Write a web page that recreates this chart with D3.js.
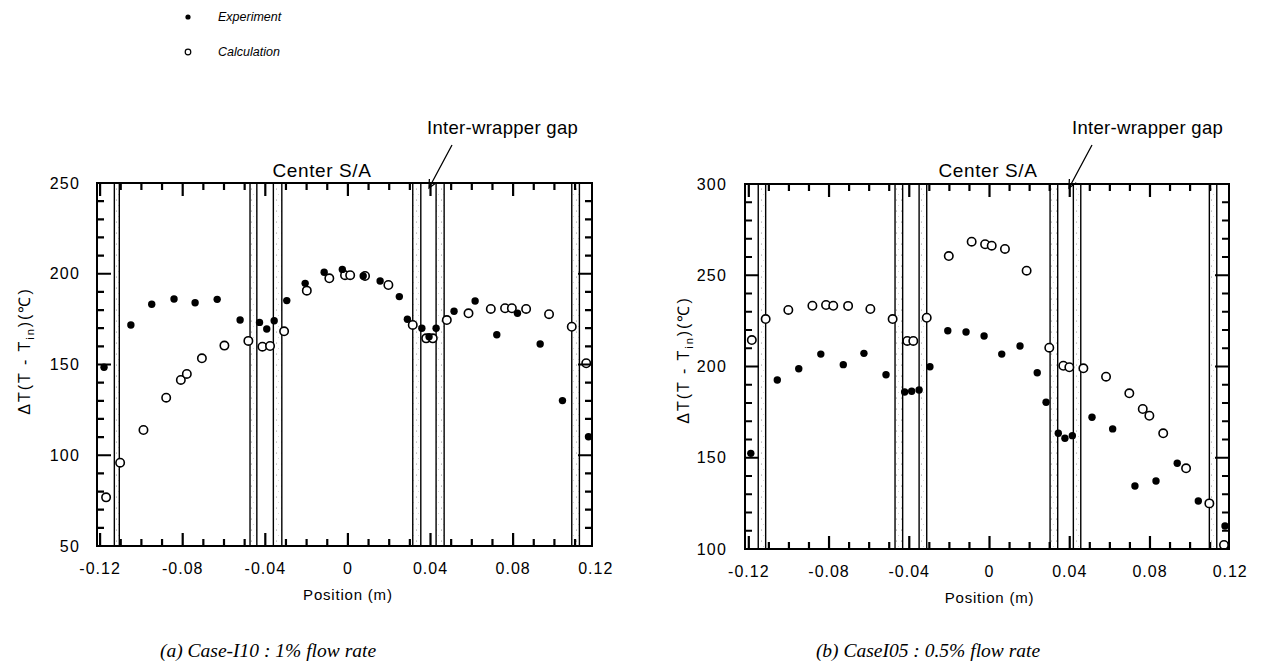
<!DOCTYPE html>
<html><head><meta charset="utf-8">
<script src="https://cdn.jsdelivr.net/npm/d3@7"></script>
<style>body{margin:0;background:#fff}</style>
</head><body><svg id="c" width="1269" height="664"></svg>
<script>
// ---------- data ----------
const xTickValues = [-0.12, -0.08, -0.04, 0, 0.04, 0.08, 0.12];
const xTickLabels = ["-0.12", "-0.08", "-0.04", "0", "0.04", "0.08", "0.12"];
const yTicksA = [50, 100, 150, 200, 250];
const yTicksB = [100, 150, 200, 250, 300];
const legendLabels = ["Experiment", "Calculation"];
const captions = ["(a) Case-I10 : 1% flow rate", "(b) CaseI05 : 0.5% flow rate"];
const annotCenter = "Center S/A";
const annotGap = "Inter-wrapper gap";
const xAxisTitle = "Position (m)";

// wrapper-tube walls [from, to] in m
const wallsA = [[-0.1131, -0.1107], [-0.0474, -0.0441], [-0.0361, -0.0320], [0.0314, 0.0353], [0.0427, 0.0466], [0.1084, 0.1121]];
const wallsB = [[-0.1153, -0.1116], [-0.0471, -0.0433], [-0.0351, -0.0313], [0.0302, 0.0340], [0.0418, 0.0455], [0.1096, 0.1133]];

// Case-I10 (1% flow)
const expA = [[-0.1181,148.5],[-0.1051,171.8],[-0.0950,183.2],[-0.0842,186.1],[-0.0740,184.0],[-0.0633,185.9],[-0.0522,174.5],[-0.0428,173.2],[-0.0393,169.6],[-0.0357,174.1],[-0.0296,185.2],[-0.0207,194.7],[-0.0115,200.8],[-0.0027,202.4],[0.0074,198.8],[0.0156,196.0],[0.0249,187.4],[0.0288,174.9],[0.0358,170.0],[0.0393,165.3],[0.0427,170.0],[0.0514,179.3],[0.0616,185.0],[0.0721,166.4],[0.0821,178.2],[0.0931,161.3],[0.1039,130.1],[0.1165,110.2]];
const calcA = [[-0.1171,76.8],[-0.1103,95.9],[-0.0990,113.9],[-0.0880,131.7],[-0.0809,141.5],[-0.0780,144.8],[-0.0707,153.4],[-0.0598,160.4],[-0.0482,163.0],[-0.0414,159.8],[-0.0377,160.2],[-0.0309,168.3],[-0.0199,190.7],[-0.0090,197.5],[-0.0014,199.2],[0.0011,199.2],[0.0083,198.8],[0.0196,193.8],[0.0314,171.8],[0.0379,164.4],[0.0411,164.4],[0.0479,174.5],[0.0584,178.2],[0.0692,180.6],[0.0761,181.0],[0.0794,181.0],[0.0863,180.6],[0.0974,177.7],[0.1084,170.8],[0.1154,150.7]];

// Case-I05 (0.5% flow)
const expB = [[-0.1190,152.4],[-0.1058,192.6],[-0.0951,198.8],[-0.0841,206.8],[-0.0729,201.0],[-0.0626,207.2],[-0.0516,195.5],[-0.0423,186.0],[-0.0388,186.4],[-0.0351,187.1],[-0.0297,199.9],[-0.0208,219.6],[-0.0117,218.9],[-0.0027,216.7],[0.0061,206.8],[0.0152,211.2],[0.0238,196.6],[0.0282,180.4],[0.0343,163.4],[0.0376,160.7],[0.0413,162.1],[0.0511,172.2],[0.0614,165.8],[0.0725,134.5],[0.0830,137.3],[0.0936,147.0],[0.1041,126.3],[0.1174,112.6]];
const calcB = [[-0.1185,214.5],[-0.1116,226.0],[-0.1003,231.0],[-0.0883,233.3],[-0.0815,233.7],[-0.0779,233.3],[-0.0705,233.2],[-0.0594,231.5],[-0.0483,226.0],[-0.0410,214.0],[-0.0380,214.0],[-0.0313,226.7],[-0.0203,260.5],[-0.0089,268.4],[-0.0022,267.0],[0.0011,266.2],[0.0077,264.4],[0.0185,252.5],[0.0298,210.3],[0.0368,200.4],[0.0398,199.6],[0.0468,199.0],[0.0581,194.4],[0.0697,185.3],[0.0764,176.7],[0.0797,173.0],[0.0866,163.4],[0.0980,144.2],[0.1096,125.0],[0.1169,102.2]];

// ---------- drawing ----------
const SANS = "'Liberation Sans', Arial, Helvetica, sans-serif";
const SERIF = "'Liberation Serif', 'Times New Roman', serif";
const svg = d3.select("#c");
const defs = svg.append("defs");
const pat = defs.append("pattern").attr("id", "stip").attr("patternUnits", "userSpaceOnUse")
  .attr("width", 5).attr("height", 11);
pat.append("rect").attr("width", 5).attr("height", 11).attr("fill", "#fff");
pat.append("circle").attr("cx", 1.5).attr("cy", 2).attr("r", 0.55).attr("fill", "#888");
pat.append("circle").attr("cx", 3.5).attr("cy", 7.5).attr("r", 0.45).attr("fill", "#aaa");

const panels = [
  { box: [97, 183, 592, 546], xd: [-0.1215, 0.1182], yd: [50, 250], yTicks: yTicksA, walls: wallsA, exp: expA, calc: calcA,
    xLabY: 568, xTitleY: 595, yLabX: 80, yTitle: [24, 351], center: [322, 170], gap: [427, 128], arrow: [[452, 145], [429, 188]], caption: [268, 650] },
  { box: [745, 184, 1229, 549], xd: [-0.1219, 0.1194], yd: [100, 300], yTicks: yTicksB, walls: wallsB, exp: expB, calc: calcB,
    xLabY: 571, xTitleY: 598, yLabX: 727, yTitle: [683, 360], center: [988, 170], gap: [1072, 128], arrow: [[1092, 145], [1069, 188]], caption: [928, 650] }
];

const tickLayer = [];

panels.forEach((p, i) => {
  const [x0, y0, x1, y1] = p.box;
  const x = d3.scaleLinear().domain(p.xd).range([x0, x1]);
  const y = d3.scaleLinear().domain(p.yd).range([y1, y0]);
  const g = svg.append("g");

  // walls
  g.selectAll("rect.wall").data(p.walls).join("rect").attr("class", "wall")
    .attr("x", d => x(d[0])).attr("width", d => x(d[1]) - x(d[0]))
    .attr("y", y0).attr("height", y1 - y0).attr("fill", "url(#stip)");
  g.selectAll("line.wl").data(p.walls.flat()).join("line").attr("class", "wl")
    .attr("x1", d => x(d)).attr("x2", d => x(d)).attr("y1", y0).attr("y2", y1)
    .attr("stroke", "#000").attr("stroke-width", 1.4);

  // frame
  g.append("rect").attr("x", x0).attr("y", y0).attr("width", x1 - x0).attr("height", y1 - y0)
    .attr("fill", "none").attr("stroke", "#000").attr("stroke-width", 2);

  // tick path segments (inward), built from the scales
  const xs = d3.range(-12, 13).map(k => k / 100).filter(v => v >= p.xd[0] && v <= p.xd[1]);
  const ys = d3.range(p.yd[0], p.yd[1] + 1, 10);
  let dpath = "";
  xs.forEach(v => {
    const L = Math.round(v * 100) % 4 === 0 ? 13 : 7;
    const px = x(v);
    dpath += `M${px},${y1}V${y1 - L}M${px},${y0}V${y0 + L}`;
  });
  ys.forEach(v => {
    const L = v % 50 === 0 ? 14 : 7;
    const py = y(v);
    dpath += `M${x0},${py}H${x0 + L}M${x1},${py}H${x1 - L}`;
  });
  tickLayer.push(dpath);

  // tick labels
  g.selectAll("text.xl").data(xTickValues).join("text").attr("class", "xl")
    .attr("x", d => x(d)).attr("y", p.xLabY).attr("dy", "0.35em").attr("text-anchor", "middle")
    .attr("font-family", SANS).attr("font-size", 16).attr("letter-spacing", 1)
    .text((d, j) => xTickLabels[j]);
  g.selectAll("text.yl").data(p.yTicks).join("text").attr("class", "yl")
    .attr("x", p.yLabX).attr("y", d => y(d)).attr("dy", "0.35em").attr("text-anchor", "end")
    .attr("font-family", SANS).attr("font-size", 16).attr("letter-spacing", 1.2)
    .text(d => d);

  // axis titles
  g.append("text").attr("x", x(0)).attr("y", p.xTitleY).attr("dy", "0.35em").attr("text-anchor", "middle")
    .attr("font-family", SANS).attr("font-size", 15).attr("letter-spacing", 0.8).text(xAxisTitle);
  const yt2 = g.append("text").attr("transform", `translate(${p.yTitle[0]},${p.yTitle[1]}) rotate(-90)`)
    .attr("text-anchor", "middle").attr("dy", "0.35em")
    .attr("font-family", SANS).attr("font-size", 16).attr("letter-spacing", 2);
  yt2.append("tspan").text("\u0394T(T - T");
  yt2.append("tspan").attr("font-size", 11).attr("dy", 4).text("in");
  yt2.append("tspan").attr("dy", -4).text(")(\u2103)");

  // annotations
  g.append("text").attr("x", p.center[0]).attr("y", p.center[1]).attr("dy", "0.35em").attr("text-anchor", "middle")
    .attr("font-family", SANS).attr("font-size", 19).attr("letter-spacing", 0.6).text(annotCenter);
  g.append("text").attr("x", p.gap[0]).attr("y", p.gap[1]).attr("dy", "0.35em").attr("text-anchor", "start")
    .attr("font-family", SANS).attr("font-size", 18.5).attr("letter-spacing", 0.3).text(annotGap);
  const [a0, a1] = p.arrow;
  const ang = Math.atan2(a1[1] - a0[1], a1[0] - a0[0]);
  const hl = 9, hw = 0.45;
  g.append("path")
    .attr("d", `M${a0[0]},${a0[1]}L${a1[0]},${a1[1]}` +
      `M${a1[0] - hl * Math.cos(ang - hw)},${a1[1] - hl * Math.sin(ang - hw)}L${a1[0]},${a1[1]}` +
      `L${a1[0] - hl * Math.cos(ang + hw)},${a1[1] - hl * Math.sin(ang + hw)}`)
    .attr("fill", "none").attr("stroke", "#000").attr("stroke-width", 1.3);

  // points
  const pts = svg.append("g");
  pts.selectAll("circle.calc").data(p.calc).join("circle").attr("class", "calc")
    .attr("cx", d => x(d[0])).attr("cy", d => y(d[1])).attr("r", 4.2)
    .attr("fill", "#fff").attr("stroke", "#000").attr("stroke-width", 1.6);
  pts.selectAll("circle.exp").data(p.exp).join("circle").attr("class", "exp")
    .attr("cx", d => x(d[0])).attr("cy", d => y(d[1])).attr("r", 3.7).attr("fill", "#000");

  // caption
  g.append("text").attr("x", p.caption[0]).attr("y", p.caption[1]).attr("dy", "0.35em").attr("text-anchor", "middle")
    .attr("font-family", SERIF).attr("font-style", "italic").attr("font-size", 19.5).text(captions[i]);
});

// ticks on top of everything
svg.append("g").selectAll("path.tk").data(tickLayer).join("path").attr("class", "tk")
  .attr("d", d => d).attr("fill", "none").attr("stroke", "#000").attr("stroke-width", 2.2);

// legend
const lg = svg.append("g");
lg.append("circle").attr("cx", 188).attr("cy", 17).attr("r", 2.6).attr("fill", "#000");
lg.append("circle").attr("cx", 188).attr("cy", 52).attr("r", 2.8).attr("fill", "#fff").attr("stroke", "#000").attr("stroke-width", 1.2);
lg.selectAll("text").data(legendLabels).join("text")
  .attr("x", 218).attr("y", (d, j) => 17 + j * 35).attr("dy", "0.35em")
  .attr("font-family", SANS).attr("font-size", 12.5).attr("font-style", "italic").text(d => d);
</script></body></html>
